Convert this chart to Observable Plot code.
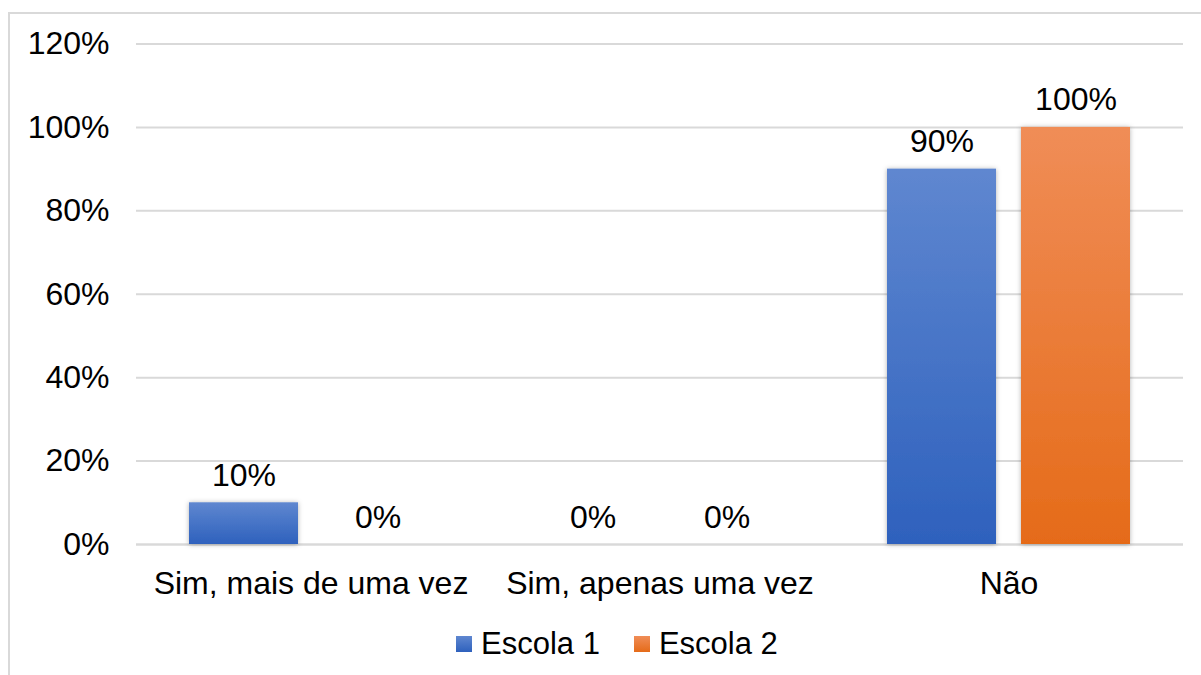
<!DOCTYPE html>
<html>
<head>
<meta charset="utf-8">
<script src="https://cdn.jsdelivr.net/npm/d3@7"></script>
<script src="https://cdn.jsdelivr.net/npm/@observablehq/plot@0.6"></script>
<style>
  html, body { margin: 0; padding: 0; background: #fff; }
  body { width: 1201px; height: 675px; overflow: hidden; position: relative;
         font-family: 'Liberation Sans', Arial, Helvetica, sans-serif; }
  #frame { position: absolute; left: 8px; top: 12px; width: 1400px; height: 900px;
           border-left: 2px solid #d9d9d9; border-top: 2px solid #d9d9d9; pointer-events: none; }
  #chart svg { display: block; }
  #legend { height: 63px; display: flex; align-items: center; padding-left: 456px;
            font-size: 31px; color: #000; }
  .item { display: flex; align-items: center; margin-right: 34px; }
  .sw { width: 16px; height: 16px; margin-right: 9px; margin-top: 1px; }
</style>
</head>
<body>
<div id="frame"></div>
<div id="chart"></div>
<div id="legend"></div>
<script>
const categories = ["Sim, mais de uma vez", "Sim, apenas uma vez", "Não"];
const series = ["Escola 1", "Escola 2"];
const escola1 = [0.10, 0.00, 0.90];
const escola2 = [0.00, 0.00, 1.00];
const yTicks = [0, 0.2, 0.4, 0.6, 0.8, 1.0, 1.2];

const rows = [];
categories.forEach((c, i) => {
  rows.push({category: c, series: series[0], value: escola1[i]});
  rows.push({category: c, series: series[1], value: escola2[i]});
});

const pct = v => Math.round(v * 100) + "%";
const fills = ["url(#gBlue)", "url(#gOrange)"];

const svg = Plot.plot({
  width: 1201,
  height: 612,
  marginLeft: 135,
  marginRight: 18,
  marginTop: 43.5,
  marginBottom: 68,
  style: {fontFamily: "'Liberation Sans', Arial, Helvetica, sans-serif", fontSize: "32px", color: "#000", background: "transparent"},
  fx: {domain: categories, padding: 0, label: null, axis: "bottom", tickSize: 0, tickPadding: 27},
  x: {domain: series, paddingInner: 0.1866, paddingOuter: 0.3955, axis: null},
  y: {domain: [0, 1.2], axis: null},
  color: {domain: series, range: fills},
  marks: [
    Plot.gridY(yTicks, {stroke: "#d9d9d9", strokeOpacity: 1, strokeWidth: 2}),
    Plot.axisY(yTicks, {tickSize: 0, tickPadding: 27, tickFormat: pct, fill: "#000", label: null}),
    Plot.ruleY([0], {stroke: "#d9d9d9", strokeWidth: 2}),
    Plot.barY(rows, {fx: "category", x: "series", y: "value", fill: "series"}),
    Plot.text(rows, {fx: "category", x: "series", y: "value", text: d => pct(d.value),
      lineAnchor: "bottom", dy: -17, fill: "#000", fontSize: 32})
  ]
});

const defs = d3.select(svg).insert("defs", ":first-child");
function grad(id, top, bottom) {
  const g = defs.append("linearGradient").attr("id", id)
    .attr("x1", 0).attr("y1", 0).attr("x2", 0).attr("y2", 1);
  g.append("stop").attr("offset", "0%").attr("stop-color", top);
  g.append("stop").attr("offset", "100%").attr("stop-color", bottom);
}
grad("gBlue", "#5f87d0", "#2e61bd");
grad("gOrange", "#f08d57", "#e56b19");
const f = defs.append("filter").attr("id", "shadow")
  .attr("x", "-20%").attr("y", "-20%").attr("width", "140%").attr("height", "140%");
f.append("feDropShadow").attr("dx", 0).attr("dy", 0.5).attr("stdDeviation", 2.5)
  .attr("flood-color", "#000").attr("flood-opacity", 0.3);
d3.select(svg).selectAll("g[aria-label='bar'] rect").attr("filter", "url(#shadow)");

document.getElementById("chart").appendChild(svg);

const legend = document.getElementById("legend");
const swatchCss = ["linear-gradient(#5f87d0, #2e61bd)", "linear-gradient(#f08d57, #e56b19)"];
series.forEach((s, i) => {
  const it = document.createElement("div");
  it.className = "item";
  const sw = document.createElement("div");
  sw.className = "sw";
  sw.style.background = swatchCss[i];
  const t = document.createElement("span");
  t.textContent = s;
  it.appendChild(sw); it.appendChild(t);
  legend.appendChild(it);
});
</script>
</body>
</html>
